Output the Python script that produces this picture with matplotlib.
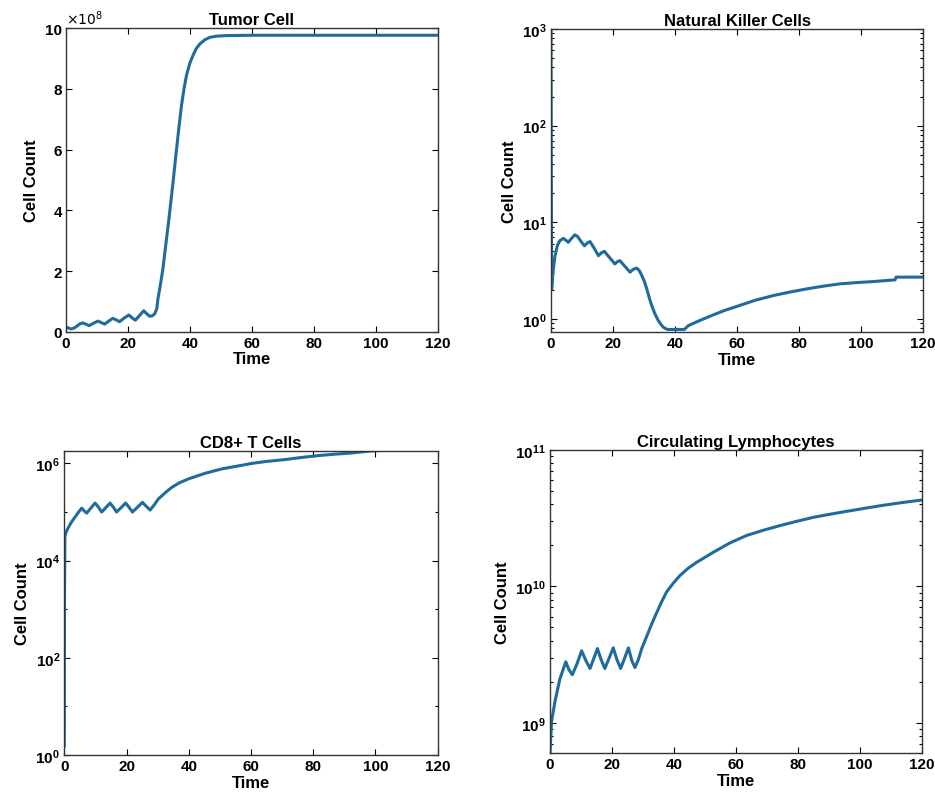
import numpy as np
import matplotlib
matplotlib.use("Agg")
import matplotlib.pyplot as plt
from matplotlib.ticker import FuncFormatter, LogLocator, FixedLocator, NullFormatter

plt.rcParams['font.family'] = ['Liberation Sans', 'DejaVu Sans']

# ---------------- data ----------------
time_ticks = [0, 20, 40, 60, 80, 100, 120]

tumor_t = [0, 0.8, 1.6, 2.6, 3.5, 4.5, 5.4, 6.4, 7.5, 8.9, 10.3, 11.4, 12.5, 13.8, 15.1,
           16.2, 17.3, 18.8, 20.3, 21.3, 22.4, 23.8, 25.1, 26.0, 27.0, 27.8, 28.6, 29.3,
           29.7, 30.5, 31.3, 32.4, 33.5, 34.6, 35.6, 36.5, 37.3, 38.1, 38.9, 40.0, 41.0,
           42.0, 43.2, 44.8, 46.4, 48.5, 51.8, 60, 80, 100, 120]
tumor_v = [0.16, 0.12, 0.09, 0.12, 0.18, 0.26, 0.29, 0.25, 0.20, 0.28, 0.35, 0.30, 0.25,
           0.35, 0.44, 0.39, 0.33, 0.45, 0.55, 0.46, 0.38, 0.54, 0.69, 0.60, 0.51, 0.52,
           0.58, 0.75, 1.08, 1.55, 2.07, 3.00, 3.94, 4.95, 5.92, 6.75, 7.45, 8.00, 8.44,
           8.85, 9.10, 9.32, 9.48, 9.62, 9.70, 9.74, 9.76, 9.77, 9.77, 9.77, 9.77]
tumor_scale = 1e8
tumor_ticks = [0, 2, 4, 6, 8, 10]

nk_t = [0, 0.1, 0.2, 0.6, 1.3, 2.1, 2.9, 4.0, 4.8, 5.6, 6.6, 7.7, 8.6, 9.7, 10.8, 11.7,
        12.6, 13.9, 15.3, 16.2, 17.2, 18.9, 20.6, 21.4, 22.2, 23.8, 25.5, 26.5, 27.6, 28.5,
        29.3, 30.1, 30.9, 31.7, 32.5, 33.5, 34.6, 35.4, 36.2, 37.0, 37.8, 43.0, 44.3, 48.0,
        51.8, 56.0, 61.0, 66.0, 71.7, 77.0, 82.5, 88.0, 93.2, 98.5, 104.0, 111.0, 111.3, 120]
nk_v = [1000, 30, 2.0, 3.0, 4.5, 5.8, 6.45, 6.8, 6.5, 6.2, 6.8, 7.4, 7.1, 6.3, 5.7, 6.1,
        6.3, 5.4, 4.5, 4.8, 5.0, 4.3, 3.7, 3.9, 4.0, 3.5, 3.04, 3.25, 3.35, 3.15,
        2.8, 2.45, 2.04, 1.65, 1.37, 1.13, 0.96, 0.88, 0.82, 0.79, 0.775, 0.775, 0.85, 0.96,
        1.08, 1.22, 1.38, 1.56, 1.74, 1.89, 2.04, 2.18, 2.30, 2.37, 2.43, 2.53, 2.70, 2.70]

cd8_t = [0, 0.05, 0.2, 0.7, 1.3, 2.3, 3.4, 4.5, 5.6, 6.4, 7.2, 8.5, 9.9, 11.0, 12.0, 13.3,
         14.7, 15.8, 16.8, 18.2, 19.7, 20.8, 21.9, 23.5, 25.1, 26.4, 27.6, 28.9, 30.2, 32.3,
         34.5, 37.0, 39.9, 45.2, 50.6, 56.0, 60.3, 65.0, 70.5, 76.0, 81.2, 86.5, 91.9, 98.3,
         110, 120]
cd8_v = [1.5, 1e3, 3.2e4, 4.0e4, 4.8e4, 6.2e4, 7.8e4, 9.8e4, 1.2e5, 1.05e5, 9.5e4, 1.2e5,
         1.53e5, 1.25e5, 1.0e5, 1.22e5, 1.53e5, 1.25e5, 1.0e5, 1.22e5, 1.53e5, 1.25e5, 1.0e5,
         1.25e5, 1.58e5, 1.3e5, 1.1e5, 1.4e5, 1.85e5, 2.45e5, 3.2e5, 4.0e5, 4.8e5, 6.25e5,
         7.7e5, 8.9e5, 1.0e6, 1.1e6, 1.19e6, 1.32e6, 1.44e6, 1.54e6, 1.63e6, 1.8e6, 1.95e6,
         2.05e6]

lym_t = [0, 0.5, 1.6, 3.2, 5.1, 6.1, 7.2, 8.7, 10.2, 11.6, 12.9, 14.1, 15.3, 16.5, 17.7,
         19.0, 20.4, 21.6, 22.8, 24.0, 25.3, 26.4, 27.4, 28.5, 29.6, 31.2, 32.8, 34.4, 36.0,
         37.6, 39.7, 41.9, 44.6, 47.3, 52.7, 58.0, 63.4, 68.8, 74.2, 79.6, 85.0, 90.3, 95.7,
         101.0, 106.5, 113.0, 120]
lym_v = [6.0e8, 1.02e9, 1.43e9, 2.1e9, 2.8e9, 2.45e9, 2.25e9, 2.7e9, 3.37e9, 2.85e9, 2.5e9,
         2.95e9, 3.5e9, 2.9e9, 2.5e9, 2.95e9, 3.54e9, 2.9e9, 2.5e9, 2.95e9, 3.54e9, 2.85e9,
         2.54e9, 2.9e9, 3.5e9, 4.3e9, 5.3e9, 6.4e9, 7.7e9, 9.1e9, 1.05e10, 1.2e10, 1.36e10,
         1.5e10, 1.78e10, 2.08e10, 2.36e10, 2.58e10, 2.79e10, 3.0e10, 3.21e10, 3.38e10,
         3.55e10, 3.72e10, 3.9e10, 4.1e10, 4.3e10]

titles = ["Tumor Cell", "Natural Killer Cells", "CD8+ T Cells", "Circulating Lymphocytes"]
xlabel = "Time"
ylabel = "Cell Count"

# ---------------- styling ----------------
LINE = "#1f6c9c"
FS = 11
W, H = 935, 803
fig = plt.figure(figsize=(W / 100, H / 100), dpi=100)

def box(l, r, t, b):
    return [l / W, 1 - b / H, (r - l) / W, (b - t) / H]

axes = [fig.add_axes(box(66, 437.5, 29.3, 332.7)),
        fig.add_axes(box(551, 923, 30, 333)),
        fig.add_axes(box(64.3, 437.7, 452, 756)),
        fig.add_axes(box(550, 922, 451, 754))]

def style(ax, title):
    ax.set_title(title, fontsize=FS + 1, fontweight='bold', pad=3)
    ax.set_xlabel(xlabel, fontsize=FS + 1, fontweight='bold', labelpad=1)
    ax.set_ylabel(ylabel, fontsize=FS + 1, fontweight='bold', labelpad=4)
    ax.set_xlim(0, 120)
    ax.set_xticks(time_ticks)
    ax.tick_params(which='both', direction='in', top=True, right=True,
                   labelsize=FS, width=0.8, pad=3)
    ax.tick_params(which='major', length=4)
    ax.tick_params(which='minor', length=2)
    for lab in ax.get_xticklabels() + ax.get_yticklabels():
        lab.set_fontweight('bold')
    for s in ax.spines.values():
        s.set_linewidth(1.0)
        s.set_color('#333333')

def plot_line(ax, t, v):
    ax.plot(t, v, color=LINE, lw=2.2, solid_joinstyle='round', solid_capstyle='round')

# Tumor
ax = axes[0]
plot_line(ax, tumor_t, np.array(tumor_v) * tumor_scale)
ax.set_ylim(0, 10 * tumor_scale)
ax.set_yticks(np.array(tumor_ticks) * tumor_scale)
ax.yaxis.set_major_formatter(FuncFormatter(lambda v, p: f"{v / tumor_scale:g}"))
style(ax, titles[0])
ax.text(0.0, 1.005, r"$\times10^{8}$", transform=ax.transAxes, ha='left', va='bottom',
        fontsize=FS - 1)

# NK
ax = axes[1]
plot_line(ax, nk_t, nk_v)
ax.set_yscale('log')
ax.set_ylim(0.73, 1000)
ax.yaxis.set_major_locator(LogLocator(base=10, numticks=10))
ax.yaxis.set_minor_locator(LogLocator(base=10, subs=np.arange(2, 10), numticks=20))
ax.yaxis.set_minor_formatter(NullFormatter())
style(ax, titles[1])

# CD8
ax = axes[2]
plot_line(ax, cd8_t, cd8_v)
ax.set_yscale('log')
ax.set_ylim(1, 1.8e6)
ax.yaxis.set_major_locator(FixedLocator([1, 1e2, 1e4, 1e6]))
ax.yaxis.set_minor_locator(FixedLocator([1e1, 1e3, 1e5]))
ax.yaxis.set_minor_formatter(NullFormatter())
style(ax, titles[2])

# Lymphocytes
ax = axes[3]
plot_line(ax, lym_t, lym_v)
ax.set_yscale('log')
ax.set_ylim(6.0e8, 1e11)
ax.yaxis.set_major_locator(LogLocator(base=10, numticks=10))
ax.yaxis.set_minor_locator(LogLocator(base=10, subs=np.arange(2, 10), numticks=20))
ax.yaxis.set_minor_formatter(NullFormatter())
style(ax, titles[3])

fig.savefig("out.png", dpi=100)
